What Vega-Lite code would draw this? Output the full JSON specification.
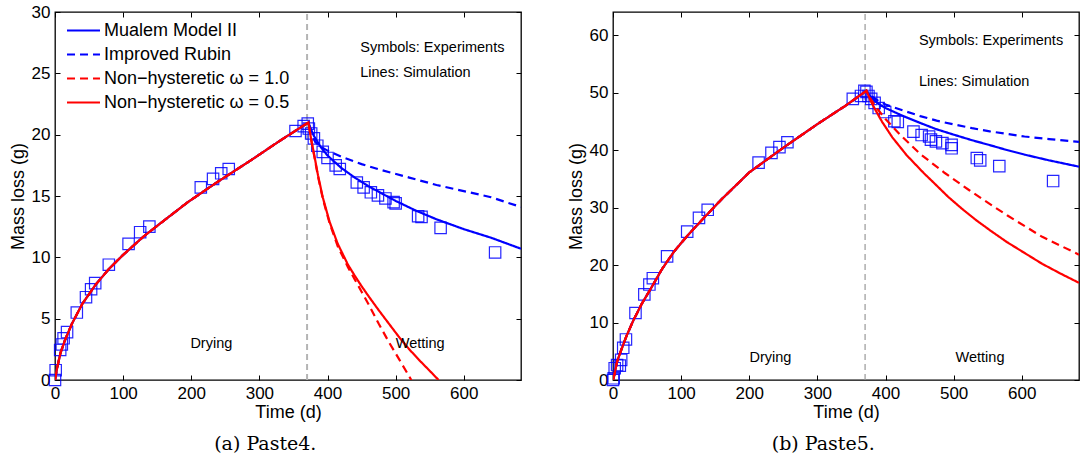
{
  "$schema": "https://vega.github.io/schema/vega-lite/v6.json",
  "autosize": {"type": "pad"},
  "padding": {"left": 8, "top": 2, "right": 4, "bottom": 4},
  "background": "white",
  "config": {
    "font": "Liberation Sans",
    "view": {"stroke": "#000", "strokeWidth": 1.3},
    "axis": {
      "grid": false, "domain": false, "tickColor": "#000", "tickSize": -5, "tickWidth": 1,
      "labelFont": "Liberation Sans", "labelFontSize": 17, "labelColor": "#000", "labelPadding": 10, "labelFlush": false,
      "titleFont": "Liberation Sans", "titleFontSize": 18, "titleFontWeight": "normal", "titleColor": "#000"
    },
    "axisY": {"titlePadding": 4},
    "axisX": {"titlePadding": 2},
    "legend": {"orient": "none", "legendX": 19, "legendY": 9, "title": null, "symbolType": "M-2,0H2", "symbolSize": 272, "symbolStrokeWidth": 2.2, "labelFontSize": 18, "labelFont": "Liberation Sans", "labelColor": "#000", "labelOffset": 11, "rowPadding": 5, "labelLimit": 400}
  },
  "datasets": {
    "a_lines": [
      {"model": "Mualem Model II", "time": 0, "mass": 0}, {"model": "Mualem Model II", "time": 3, "mass": 0.95}, {"model": "Mualem Model II", "time": 8, "mass": 2.2}, {"model": "Mualem Model II", "time": 15, "mass": 3.3}, {"model": "Mualem Model II", "time": 25, "mass": 4.6}, {"model": "Mualem Model II", "time": 40, "mass": 6.2}, {"model": "Mualem Model II", "time": 60, "mass": 7.8}, {"model": "Mualem Model II", "time": 80, "mass": 9.1}, {"model": "Mualem Model II", "time": 100, "mass": 10.2}, {"model": "Mualem Model II", "time": 130, "mass": 11.7}, {"model": "Mualem Model II", "time": 160, "mass": 13.0}, {"model": "Mualem Model II", "time": 195, "mass": 14.5}, {"model": "Mualem Model II", "time": 240, "mass": 16.2}, {"model": "Mualem Model II", "time": 290, "mass": 18.0}, {"model": "Mualem Model II", "time": 330, "mass": 19.5}, {"model": "Mualem Model II", "time": 372, "mass": 21.0},
      {"model": "Mualem Model II", "time": 376, "mass": 20.4}, {"model": "Mualem Model II", "time": 380, "mass": 19.9}, {"model": "Mualem Model II", "time": 390, "mass": 19.0}, {"model": "Mualem Model II", "time": 400, "mass": 18.3}, {"model": "Mualem Model II", "time": 420, "mass": 17.3}, {"model": "Mualem Model II", "time": 440, "mass": 16.5}, {"model": "Mualem Model II", "time": 460, "mass": 15.8}, {"model": "Mualem Model II", "time": 480, "mass": 15.2}, {"model": "Mualem Model II", "time": 500, "mass": 14.6}, {"model": "Mualem Model II", "time": 530, "mass": 13.8}, {"model": "Mualem Model II", "time": 560, "mass": 13.1}, {"model": "Mualem Model II", "time": 600, "mass": 12.3}, {"model": "Mualem Model II", "time": 640, "mass": 11.6}, {"model": "Mualem Model II", "time": 684, "mass": 10.7},
      {"model": "Improved Rubin", "time": 0, "mass": 0}, {"model": "Improved Rubin", "time": 3, "mass": 0.95}, {"model": "Improved Rubin", "time": 8, "mass": 2.2}, {"model": "Improved Rubin", "time": 15, "mass": 3.3}, {"model": "Improved Rubin", "time": 25, "mass": 4.6}, {"model": "Improved Rubin", "time": 40, "mass": 6.2}, {"model": "Improved Rubin", "time": 60, "mass": 7.8}, {"model": "Improved Rubin", "time": 80, "mass": 9.1}, {"model": "Improved Rubin", "time": 100, "mass": 10.2}, {"model": "Improved Rubin", "time": 130, "mass": 11.7}, {"model": "Improved Rubin", "time": 160, "mass": 13.0}, {"model": "Improved Rubin", "time": 195, "mass": 14.5}, {"model": "Improved Rubin", "time": 240, "mass": 16.2}, {"model": "Improved Rubin", "time": 290, "mass": 18.0}, {"model": "Improved Rubin", "time": 330, "mass": 19.5}, {"model": "Improved Rubin", "time": 372, "mass": 21.0},
      {"model": "Improved Rubin", "time": 376, "mass": 20.2}, {"model": "Improved Rubin", "time": 382, "mass": 19.4}, {"model": "Improved Rubin", "time": 390, "mass": 19.0}, {"model": "Improved Rubin", "time": 400, "mass": 18.7}, {"model": "Improved Rubin", "time": 420, "mass": 18.2}, {"model": "Improved Rubin", "time": 450, "mass": 17.6}, {"model": "Improved Rubin", "time": 480, "mass": 17.1}, {"model": "Improved Rubin", "time": 520, "mass": 16.5}, {"model": "Improved Rubin", "time": 560, "mass": 15.9}, {"model": "Improved Rubin", "time": 600, "mass": 15.4}, {"model": "Improved Rubin", "time": 640, "mass": 14.9}, {"model": "Improved Rubin", "time": 684, "mass": 14.1},
      {"model": "Non−hysteretic ω = 1.0", "time": 0, "mass": 0}, {"model": "Non−hysteretic ω = 1.0", "time": 3, "mass": 0.95}, {"model": "Non−hysteretic ω = 1.0", "time": 8, "mass": 2.2}, {"model": "Non−hysteretic ω = 1.0", "time": 15, "mass": 3.3}, {"model": "Non−hysteretic ω = 1.0", "time": 25, "mass": 4.6}, {"model": "Non−hysteretic ω = 1.0", "time": 40, "mass": 6.2}, {"model": "Non−hysteretic ω = 1.0", "time": 60, "mass": 7.8}, {"model": "Non−hysteretic ω = 1.0", "time": 80, "mass": 9.1}, {"model": "Non−hysteretic ω = 1.0", "time": 100, "mass": 10.2}, {"model": "Non−hysteretic ω = 1.0", "time": 130, "mass": 11.7}, {"model": "Non−hysteretic ω = 1.0", "time": 160, "mass": 13.0}, {"model": "Non−hysteretic ω = 1.0", "time": 195, "mass": 14.5}, {"model": "Non−hysteretic ω = 1.0", "time": 240, "mass": 16.2}, {"model": "Non−hysteretic ω = 1.0", "time": 290, "mass": 18.0}, {"model": "Non−hysteretic ω = 1.0", "time": 330, "mass": 19.5}, {"model": "Non−hysteretic ω = 1.0", "time": 372, "mass": 21.0},
      {"model": "Non−hysteretic ω = 1.0", "time": 376, "mass": 19.6}, {"model": "Non−hysteretic ω = 1.0", "time": 380, "mass": 18.4}, {"model": "Non−hysteretic ω = 1.0", "time": 386, "mass": 16.6}, {"model": "Non−hysteretic ω = 1.0", "time": 393, "mass": 14.8}, {"model": "Non−hysteretic ω = 1.0", "time": 403, "mass": 12.8}, {"model": "Non−hysteretic ω = 1.0", "time": 415, "mass": 10.9}, {"model": "Non−hysteretic ω = 1.0", "time": 430, "mass": 9.2}, {"model": "Non−hysteretic ω = 1.0", "time": 440, "mass": 8.2}, {"model": "Non−hysteretic ω = 1.0", "time": 450, "mass": 7.2}, {"model": "Non−hysteretic ω = 1.0", "time": 460, "mass": 6.2}, {"model": "Non−hysteretic ω = 1.0", "time": 475, "mass": 4.6}, {"model": "Non−hysteretic ω = 1.0", "time": 490, "mass": 3.1}, {"model": "Non−hysteretic ω = 1.0", "time": 505, "mass": 1.7}, {"model": "Non−hysteretic ω = 1.0", "time": 523, "mass": 0},
      {"model": "Non−hysteretic ω = 0.5", "time": 0, "mass": 0}, {"model": "Non−hysteretic ω = 0.5", "time": 3, "mass": 0.95}, {"model": "Non−hysteretic ω = 0.5", "time": 8, "mass": 2.2}, {"model": "Non−hysteretic ω = 0.5", "time": 15, "mass": 3.3}, {"model": "Non−hysteretic ω = 0.5", "time": 25, "mass": 4.6}, {"model": "Non−hysteretic ω = 0.5", "time": 40, "mass": 6.2}, {"model": "Non−hysteretic ω = 0.5", "time": 60, "mass": 7.8}, {"model": "Non−hysteretic ω = 0.5", "time": 80, "mass": 9.1}, {"model": "Non−hysteretic ω = 0.5", "time": 100, "mass": 10.2}, {"model": "Non−hysteretic ω = 0.5", "time": 130, "mass": 11.7}, {"model": "Non−hysteretic ω = 0.5", "time": 160, "mass": 13.0}, {"model": "Non−hysteretic ω = 0.5", "time": 195, "mass": 14.5}, {"model": "Non−hysteretic ω = 0.5", "time": 240, "mass": 16.2}, {"model": "Non−hysteretic ω = 0.5", "time": 290, "mass": 18.0}, {"model": "Non−hysteretic ω = 0.5", "time": 330, "mass": 19.5}, {"model": "Non−hysteretic ω = 0.5", "time": 372, "mass": 21.0},
      {"model": "Non−hysteretic ω = 0.5", "time": 376, "mass": 19.6}, {"model": "Non−hysteretic ω = 0.5", "time": 380, "mass": 18.5}, {"model": "Non−hysteretic ω = 0.5", "time": 386, "mass": 16.7}, {"model": "Non−hysteretic ω = 0.5", "time": 393, "mass": 14.9}, {"model": "Non−hysteretic ω = 0.5", "time": 403, "mass": 12.9}, {"model": "Non−hysteretic ω = 0.5", "time": 415, "mass": 11.1}, {"model": "Non−hysteretic ω = 0.5", "time": 430, "mass": 9.4}, {"model": "Non−hysteretic ω = 0.5", "time": 440, "mass": 8.5}, {"model": "Non−hysteretic ω = 0.5", "time": 450, "mass": 7.65}, {"model": "Non−hysteretic ω = 0.5", "time": 460, "mass": 6.85}, {"model": "Non−hysteretic ω = 0.5", "time": 475, "mass": 5.7}, {"model": "Non−hysteretic ω = 0.5", "time": 490, "mass": 4.6}, {"model": "Non−hysteretic ω = 0.5", "time": 505, "mass": 3.5}, {"model": "Non−hysteretic ω = 0.5", "time": 520, "mass": 2.5}, {"model": "Non−hysteretic ω = 0.5", "time": 535, "mass": 1.6}, {"model": "Non−hysteretic ω = 0.5", "time": 550, "mass": 0.75}, {"model": "Non−hysteretic ω = 0.5", "time": 563, "mass": 0}
    ],
    "b_lines": [
      {"model": "Mualem Model II", "time": 0, "mass": 0}, {"model": "Mualem Model II", "time": 2, "mass": 0.9}, {"model": "Mualem Model II", "time": 6, "mass": 3.2}, {"model": "Mualem Model II", "time": 12, "mass": 5.2}, {"model": "Mualem Model II", "time": 20, "mass": 7.7}, {"model": "Mualem Model II", "time": 30, "mass": 10.4}, {"model": "Mualem Model II", "time": 42, "mass": 13.2}, {"model": "Mualem Model II", "time": 56, "mass": 16.0}, {"model": "Mualem Model II", "time": 72, "mass": 19.3}, {"model": "Mualem Model II", "time": 90, "mass": 22.4}, {"model": "Mualem Model II", "time": 110, "mass": 25.2}, {"model": "Mualem Model II", "time": 135, "mass": 28.4}, {"model": "Mualem Model II", "time": 160, "mass": 31.5}, {"model": "Mualem Model II", "time": 200, "mass": 36.1}, {"model": "Mualem Model II", "time": 250, "mass": 40.4}, {"model": "Mualem Model II", "time": 300, "mass": 44.5}, {"model": "Mualem Model II", "time": 340, "mass": 47.6}, {"model": "Mualem Model II", "time": 372, "mass": 50.3},
      {"model": "Mualem Model II", "time": 376, "mass": 49.6}, {"model": "Mualem Model II", "time": 380, "mass": 49.0}, {"model": "Mualem Model II", "time": 390, "mass": 48.0}, {"model": "Mualem Model II", "time": 400, "mass": 47.3}, {"model": "Mualem Model II", "time": 426, "mass": 45.9}, {"model": "Mualem Model II", "time": 451, "mass": 44.7}, {"model": "Mualem Model II", "time": 475, "mass": 43.6}, {"model": "Mualem Model II", "time": 502, "mass": 42.6}, {"model": "Mualem Model II", "time": 527, "mass": 41.7}, {"model": "Mualem Model II", "time": 553, "mass": 40.85}, {"model": "Mualem Model II", "time": 578, "mass": 40.0}, {"model": "Mualem Model II", "time": 604, "mass": 39.2}, {"model": "Mualem Model II", "time": 640, "mass": 38.2}, {"model": "Mualem Model II", "time": 684, "mass": 37.1},
      {"model": "Improved Rubin", "time": 0, "mass": 0}, {"model": "Improved Rubin", "time": 2, "mass": 0.9}, {"model": "Improved Rubin", "time": 6, "mass": 3.2}, {"model": "Improved Rubin", "time": 12, "mass": 5.2}, {"model": "Improved Rubin", "time": 20, "mass": 7.7}, {"model": "Improved Rubin", "time": 30, "mass": 10.4}, {"model": "Improved Rubin", "time": 42, "mass": 13.2}, {"model": "Improved Rubin", "time": 56, "mass": 16.0}, {"model": "Improved Rubin", "time": 72, "mass": 19.3}, {"model": "Improved Rubin", "time": 90, "mass": 22.4}, {"model": "Improved Rubin", "time": 110, "mass": 25.2}, {"model": "Improved Rubin", "time": 135, "mass": 28.4}, {"model": "Improved Rubin", "time": 160, "mass": 31.5}, {"model": "Improved Rubin", "time": 200, "mass": 36.1}, {"model": "Improved Rubin", "time": 250, "mass": 40.4}, {"model": "Improved Rubin", "time": 300, "mass": 44.5}, {"model": "Improved Rubin", "time": 340, "mass": 47.6}, {"model": "Improved Rubin", "time": 372, "mass": 50.3},
      {"model": "Improved Rubin", "time": 376, "mass": 49.8}, {"model": "Improved Rubin", "time": 380, "mass": 49.3}, {"model": "Improved Rubin", "time": 390, "mass": 48.5}, {"model": "Improved Rubin", "time": 400, "mass": 47.9}, {"model": "Improved Rubin", "time": 425, "mass": 46.9}, {"model": "Improved Rubin", "time": 451, "mass": 45.9}, {"model": "Improved Rubin", "time": 475, "mass": 45.1}, {"model": "Improved Rubin", "time": 502, "mass": 44.4}, {"model": "Improved Rubin", "time": 527, "mass": 43.8}, {"model": "Improved Rubin", "time": 553, "mass": 43.25}, {"model": "Improved Rubin", "time": 578, "mass": 42.8}, {"model": "Improved Rubin", "time": 604, "mass": 42.35}, {"model": "Improved Rubin", "time": 640, "mass": 41.9}, {"model": "Improved Rubin", "time": 684, "mass": 41.4},
      {"model": "Non−hysteretic ω = 1.0", "time": 0, "mass": 0}, {"model": "Non−hysteretic ω = 1.0", "time": 2, "mass": 0.9}, {"model": "Non−hysteretic ω = 1.0", "time": 6, "mass": 3.2}, {"model": "Non−hysteretic ω = 1.0", "time": 12, "mass": 5.2}, {"model": "Non−hysteretic ω = 1.0", "time": 20, "mass": 7.7}, {"model": "Non−hysteretic ω = 1.0", "time": 30, "mass": 10.4}, {"model": "Non−hysteretic ω = 1.0", "time": 42, "mass": 13.2}, {"model": "Non−hysteretic ω = 1.0", "time": 56, "mass": 16.0}, {"model": "Non−hysteretic ω = 1.0", "time": 72, "mass": 19.3}, {"model": "Non−hysteretic ω = 1.0", "time": 90, "mass": 22.4}, {"model": "Non−hysteretic ω = 1.0", "time": 110, "mass": 25.2}, {"model": "Non−hysteretic ω = 1.0", "time": 135, "mass": 28.4}, {"model": "Non−hysteretic ω = 1.0", "time": 160, "mass": 31.5}, {"model": "Non−hysteretic ω = 1.0", "time": 200, "mass": 36.1}, {"model": "Non−hysteretic ω = 1.0", "time": 250, "mass": 40.4}, {"model": "Non−hysteretic ω = 1.0", "time": 300, "mass": 44.5}, {"model": "Non−hysteretic ω = 1.0", "time": 340, "mass": 47.6}, {"model": "Non−hysteretic ω = 1.0", "time": 372, "mass": 50.3},
      {"model": "Non−hysteretic ω = 1.0", "time": 376, "mass": 49.3}, {"model": "Non−hysteretic ω = 1.0", "time": 385, "mass": 47.6}, {"model": "Non−hysteretic ω = 1.0", "time": 400, "mass": 45.4}, {"model": "Non−hysteretic ω = 1.0", "time": 421, "mass": 42.7}, {"model": "Non−hysteretic ω = 1.0", "time": 451, "mass": 39.3}, {"model": "Non−hysteretic ω = 1.0", "time": 487, "mass": 36.0}, {"model": "Non−hysteretic ω = 1.0", "time": 523, "mass": 33.0}, {"model": "Non−hysteretic ω = 1.0", "time": 543, "mass": 31.4}, {"model": "Non−hysteretic ω = 1.0", "time": 579, "mass": 28.6}, {"model": "Non−hysteretic ω = 1.0", "time": 630, "mass": 24.9}, {"model": "Non−hysteretic ω = 1.0", "time": 684, "mass": 21.8},
      {"model": "Non−hysteretic ω = 0.5", "time": 0, "mass": 0}, {"model": "Non−hysteretic ω = 0.5", "time": 2, "mass": 0.9}, {"model": "Non−hysteretic ω = 0.5", "time": 6, "mass": 3.2}, {"model": "Non−hysteretic ω = 0.5", "time": 12, "mass": 5.2}, {"model": "Non−hysteretic ω = 0.5", "time": 20, "mass": 7.7}, {"model": "Non−hysteretic ω = 0.5", "time": 30, "mass": 10.4}, {"model": "Non−hysteretic ω = 0.5", "time": 42, "mass": 13.2}, {"model": "Non−hysteretic ω = 0.5", "time": 56, "mass": 16.0}, {"model": "Non−hysteretic ω = 0.5", "time": 72, "mass": 19.3}, {"model": "Non−hysteretic ω = 0.5", "time": 90, "mass": 22.4}, {"model": "Non−hysteretic ω = 0.5", "time": 110, "mass": 25.2}, {"model": "Non−hysteretic ω = 0.5", "time": 135, "mass": 28.4}, {"model": "Non−hysteretic ω = 0.5", "time": 160, "mass": 31.5}, {"model": "Non−hysteretic ω = 0.5", "time": 200, "mass": 36.1}, {"model": "Non−hysteretic ω = 0.5", "time": 250, "mass": 40.4}, {"model": "Non−hysteretic ω = 0.5", "time": 300, "mass": 44.5}, {"model": "Non−hysteretic ω = 0.5", "time": 340, "mass": 47.6}, {"model": "Non−hysteretic ω = 0.5", "time": 372, "mass": 50.3},
      {"model": "Non−hysteretic ω = 0.5", "time": 378, "mass": 48.6}, {"model": "Non−hysteretic ω = 0.5", "time": 385, "mass": 47.0}, {"model": "Non−hysteretic ω = 0.5", "time": 395, "mass": 44.9}, {"model": "Non−hysteretic ω = 0.5", "time": 410, "mass": 42.2}, {"model": "Non−hysteretic ω = 0.5", "time": 431, "mass": 39.1}, {"model": "Non−hysteretic ω = 0.5", "time": 456, "mass": 36.0}, {"model": "Non−hysteretic ω = 0.5", "time": 470, "mass": 34.4}, {"model": "Non−hysteretic ω = 0.5", "time": 492, "mass": 31.85}, {"model": "Non−hysteretic ω = 0.5", "time": 512, "mass": 29.8}, {"model": "Non−hysteretic ω = 0.5", "time": 533, "mass": 27.8}, {"model": "Non−hysteretic ω = 0.5", "time": 555, "mass": 25.9}, {"model": "Non−hysteretic ω = 0.5", "time": 578, "mass": 24.0}, {"model": "Non−hysteretic ω = 0.5", "time": 604, "mass": 22.1}, {"model": "Non−hysteretic ω = 0.5", "time": 630, "mass": 20.2}, {"model": "Non−hysteretic ω = 0.5", "time": 657, "mass": 18.5}, {"model": "Non−hysteretic ω = 0.5", "time": 684, "mass": 16.9}
    ],
    "a_exp": [
      {"time": 0, "mass": 0}, {"time": 1, "mass": 0.8}, {"time": 7.6, "mass": 2.45}, {"time": 10, "mass": 2.9}, {"time": 12.6, "mass": 3.4}, {"time": 17.7, "mass": 3.9}, {"time": 32, "mass": 5.5}, {"time": 45.5, "mass": 6.75}, {"time": 53, "mass": 7.4}, {"time": 59, "mass": 7.9}, {"time": 79, "mass": 9.4}, {"time": 108, "mass": 11.1}, {"time": 125, "mass": 12.05}, {"time": 138.5, "mass": 12.5}, {"time": 214, "mass": 15.7}, {"time": 232, "mass": 16.4}, {"time": 244, "mass": 16.85}, {"time": 255, "mass": 17.2}, {"time": 353, "mass": 20.3}, {"time": 365, "mass": 20.7}, {"time": 371, "mass": 20.9}, {"time": 372.6, "mass": 20.5}, {"time": 376, "mass": 20.1}, {"time": 380, "mass": 19.7}, {"time": 385, "mass": 19.1}, {"time": 393, "mass": 18.6}, {"time": 400, "mass": 18.1}, {"time": 412, "mass": 17.5}, {"time": 418, "mass": 17.2}, {"time": 443, "mass": 16.1}, {"time": 453, "mass": 15.7}, {"time": 463.6, "mass": 15.3}, {"time": 474, "mass": 15.05}, {"time": 485, "mass": 14.8}, {"time": 497, "mass": 14.5}, {"time": 500, "mass": 14.4}, {"time": 533, "mass": 13.35}, {"time": 538, "mass": 13.3}, {"time": 566, "mass": 12.4}, {"time": 646, "mass": 10.4}
    ],
    "b_exp": [
      {"time": 0, "mass": 0}, {"time": 1, "mass": 0.3}, {"time": 2.5, "mass": 2.05}, {"time": 6, "mass": 2.6}, {"time": 10, "mass": 2.5}, {"time": 12, "mass": 3.5}, {"time": 15, "mass": 5.6}, {"time": 19, "mass": 7.05}, {"time": 33, "mass": 11.65}, {"time": 46, "mass": 14.9}, {"time": 53.4, "mass": 16.6}, {"time": 58.5, "mass": 17.7}, {"time": 79.4, "mass": 21.5}, {"time": 108.9, "mass": 25.8}, {"time": 126.2, "mass": 28.2}, {"time": 139, "mass": 29.6}, {"time": 213.7, "mass": 37.8}, {"time": 232.6, "mass": 39.5}, {"time": 244.3, "mass": 40.5}, {"time": 256, "mass": 41.35}, {"time": 352, "mass": 48.9}, {"time": 364, "mass": 49.4}, {"time": 369, "mass": 50.3}, {"time": 372, "mass": 50.1}, {"time": 375, "mass": 49.4}, {"time": 379, "mass": 48.9}, {"time": 384, "mass": 48.2}, {"time": 390, "mass": 47.3}, {"time": 399.5, "mass": 46.6}, {"time": 413, "mass": 45.0}, {"time": 418, "mass": 44.9}, {"time": 441, "mass": 43.2}, {"time": 453, "mass": 42.6}, {"time": 464, "mass": 42.35}, {"time": 466.7, "mass": 41.8}, {"time": 474, "mass": 41.5}, {"time": 483.5, "mass": 41.2}, {"time": 497, "mass": 40.9}, {"time": 497, "mass": 40.3}, {"time": 534, "mass": 38.6}, {"time": 539, "mass": 38.2}, {"time": 567, "mass": 37.2}, {"time": 646, "mass": 34.6}
    ],
    "a_key": [
      {"time": 448, "mass": 27.07, "note": "Symbols: Experiments"},
      {"time": 448, "mass": 25.0, "note": "Lines: Simulation"}
    ],
    "a_phase": [
      {"time": 229.5, "mass": 2.95, "note": "Drying"},
      {"time": 536, "mass": 2.95, "note": "Wetting"}
    ],
    "b_key": [
      {"time": 449, "mass": 58.9, "note": "Symbols: Experiments"},
      {"time": 449, "mass": 51.9, "note": "Lines: Simulation"}
    ],
    "b_phase": [
      {"time": 231, "mass": 3.9, "note": "Drying"},
      {"time": 538.7, "mass": 3.9, "note": "Wetting"}
    ]
  },
  "bounds": "flush",
  "spacing": 92,
  "hconcat": [
    {
      "width": 466, "height": 368,
      "title": {"text": "(a)  Paste4.", "orient": "bottom", "anchor": "middle", "frame": "bounds", "font": "DejaVu Serif", "fontSize": 19, "fontWeight": "normal", "color": "#000", "offset": 14},
      "resolve": {"axis": {"x": "independent", "y": "independent"}},
      "layer": [
        {
          "data": {"values": [{"boundary": "drying/wetting"}]},
          "mark": {"type": "rule", "strokeDash": [6, 4], "color": "#b4b4b4", "strokeWidth": 2},
          "encoding": {
            "x": {"datum": 370, "type": "quantitative", "scale": {"domain": [0, 684], "nice": false, "zero": false},
                  "axis": {"orient": "top", "labels": false, "title": null, "values": [0, 100, 200, 300, 400, 500, 600]}},
            "y": {"datum": 0, "type": "quantitative", "scale": {"domain": [0, 30], "nice": false},
                  "axis": {"orient": "right", "labels": false, "title": null, "values": [0, 5, 10, 15, 20, 25, 30]}},
            "y2": {"datum": 30}
          }
        },
        {
          "data": {"name": "a_exp"},
          "mark": {"type": "square", "filled": false, "size": 130, "color": "#0000ff", "strokeWidth": 1.2, "opacity": 0.85},
          "encoding": {
            "x": {"field": "time", "type": "quantitative", "axis": null},
            "y": {"field": "mass", "type": "quantitative", "axis": null}
          }
        },
        {
          "data": {"name": "a_lines"},
          "mark": {"type": "line", "strokeWidth": 2.2, "clip": true},
          "encoding": {
            "x": {"field": "time", "type": "quantitative", "axis": {"orient": "bottom", "title": "Time (d)", "values": [0, 100, 200, 300, 400, 500, 600]}},
            "y": {"field": "mass", "type": "quantitative", "axis": {"orient": "left", "title": "Mass loss (g)", "values": [0, 5, 10, 15, 20, 25, 30]}},
            "color": {"field": "model", "type": "nominal",
                      "scale": {"domain": ["Mualem Model II", "Improved Rubin", "Non−hysteretic ω = 1.0", "Non−hysteretic ω = 0.5"], "range": ["#0000ff", "#0000ff", "#ff0000", "#ff0000"]}},
            "strokeDash": {"field": "model", "type": "nominal",
                      "scale": {"domain": ["Mualem Model II", "Improved Rubin", "Non−hysteretic ω = 1.0", "Non−hysteretic ω = 0.5"], "range": [[1, 0], [8, 5], [8, 5], [1, 0]]}}
          }
        },
        {
          "data": {"name": "a_key"},
          "mark": {"type": "text", "fontSize": 14.5, "font": "Liberation Sans", "color": "#000", "baseline": "middle", "align": "left"},
          "encoding": {
            "x": {"field": "time", "type": "quantitative", "axis": null},
            "y": {"field": "mass", "type": "quantitative", "axis": null},
            "text": {"field": "note"}
          }
        },
        {
          "data": {"name": "a_phase"},
          "mark": {"type": "text", "fontSize": 14.5, "font": "Liberation Sans", "color": "#000", "baseline": "middle", "align": "center"},
          "encoding": {
            "x": {"field": "time", "type": "quantitative", "axis": null},
            "y": {"field": "mass", "type": "quantitative", "axis": null},
            "text": {"field": "note"}
          }
        }
      ]
    },
    {
      "width": 466, "height": 368,
      "title": {"text": "(b)  Paste5.", "orient": "bottom", "anchor": "middle", "frame": "bounds", "font": "DejaVu Serif", "fontSize": 19, "fontWeight": "normal", "color": "#000", "offset": 14},
      "resolve": {"axis": {"x": "independent", "y": "independent"}},
      "layer": [
        {
          "data": {"values": [{"boundary": "drying/wetting"}]},
          "mark": {"type": "rule", "strokeDash": [6, 4], "color": "#999999", "strokeWidth": 1.2},
          "encoding": {
            "x": {"datum": 370, "type": "quantitative", "scale": {"domain": [0, 684], "nice": false, "zero": false},
                  "axis": {"orient": "top", "labels": false, "title": null, "values": [0, 100, 200, 300, 400, 500, 600]}},
            "y": {"datum": 0, "type": "quantitative", "scale": {"domain": [0, 64], "nice": false},
                  "axis": {"orient": "right", "labels": false, "title": null, "values": [0, 10, 20, 30, 40, 50, 60]}},
            "y2": {"datum": 64}
          }
        },
        {
          "data": {"name": "b_exp"},
          "mark": {"type": "square", "filled": false, "size": 130, "color": "#0000ff", "strokeWidth": 1.2, "opacity": 0.85},
          "encoding": {
            "x": {"field": "time", "type": "quantitative", "axis": null},
            "y": {"field": "mass", "type": "quantitative", "axis": null}
          }
        },
        {
          "data": {"name": "b_lines"},
          "mark": {"type": "line", "strokeWidth": 2.2, "clip": true},
          "encoding": {
            "x": {"field": "time", "type": "quantitative", "axis": {"orient": "bottom", "title": "Time (d)", "values": [0, 100, 200, 300, 400, 500, 600]}},
            "y": {"field": "mass", "type": "quantitative", "axis": {"orient": "left", "title": "Mass loss (g)", "values": [0, 10, 20, 30, 40, 50, 60]}},
            "color": {"field": "model", "type": "nominal",
                      "scale": {"domain": ["Mualem Model II", "Improved Rubin", "Non−hysteretic ω = 1.0", "Non−hysteretic ω = 0.5"], "range": ["#0000ff", "#0000ff", "#ff0000", "#ff0000"]}},
            "strokeDash": {"field": "model", "type": "nominal",
                      "scale": {"domain": ["Mualem Model II", "Improved Rubin", "Non−hysteretic ω = 1.0", "Non−hysteretic ω = 0.5"], "range": [[1, 0], [8, 5], [8, 5], [1, 0]]}}
          }
        },
        {
          "data": {"name": "b_key"},
          "mark": {"type": "text", "fontSize": 14.5, "font": "Liberation Sans", "color": "#000", "baseline": "middle", "align": "left"},
          "encoding": {
            "x": {"field": "time", "type": "quantitative", "axis": null},
            "y": {"field": "mass", "type": "quantitative", "axis": null},
            "text": {"field": "note"}
          }
        },
        {
          "data": {"name": "b_phase"},
          "mark": {"type": "text", "fontSize": 14.5, "font": "Liberation Sans", "color": "#000", "baseline": "middle", "align": "center"},
          "encoding": {
            "x": {"field": "time", "type": "quantitative", "axis": null},
            "y": {"field": "mass", "type": "quantitative", "axis": null},
            "text": {"field": "note"}
          }
        }
      ]
    }
  ]
}
